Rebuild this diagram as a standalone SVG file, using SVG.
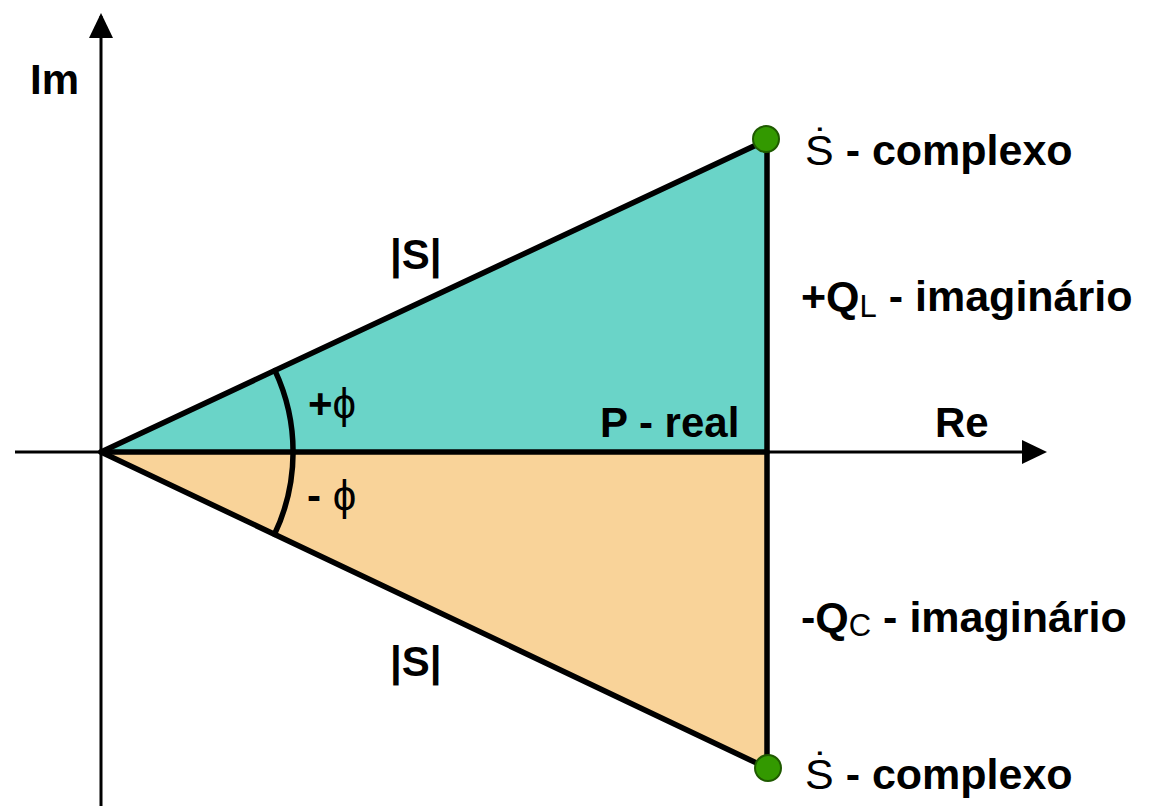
<svg xmlns="http://www.w3.org/2000/svg" width="1153" height="806" viewBox="0 0 1153 806">
  <style>
    text { font-family: "Liberation Sans", Arial, "DejaVu Sans", sans-serif; font-size: 42px; fill: #000; }
    .r { font-size: 43px; }
    .b { font-weight: bold; }
    .n { font-weight: normal; }
    .sub { font-size: 31px; font-weight: normal; }
    .axis { stroke: #000; stroke-width: 3; fill: none; }
    .edge { stroke: #000; stroke-width: 5.5; fill: none; stroke-linejoin: round; stroke-linecap: round; }
    .pt { fill: #339900; stroke: #1f5a00; stroke-width: 2; }
  </style>

  <g id="fills">
    <polygon points="101,452 767,140 767,452" fill="#6AD4C8"/>
    <polygon points="101,452 767,768 767,452" fill="#F9D399"/>
  </g>

  <g id="connectors">
    <path class="axis" d="M101,806 L101,16"/>
    <path d="M101,38 L89,38 L101,13 L113,38 z" fill="#000"/>
    <path class="axis" d="M15,452 L1024,452"/>
    <path d="M1022,440 L1047,452 L1022,464 z" fill="#000"/>
    <path class="edge" d="M101,452 L767,140 L767,768 L101,452 z"/>
    <path class="edge" d="M101,452 L767,452"/>
    <path class="edge" d="M275,370.6 A192,192 0 0 1 274.5,534.3"/>
  </g>

  <g id="point-top"><circle class="pt" cx="766" cy="139" r="13"/></g>
  <g id="point-bottom"><circle class="pt" cx="768" cy="768" r="13"/></g>

  <g id="labels">
    <text id="label-im" class="b" x="30" y="94">Im</text>
    <text id="label-re" class="b" x="935" y="437">Re</text>
    <text id="label-p" class="b" x="600" y="437">P - real</text>
    <text id="label-s-top" class="b" x="390" y="269">|S|</text>
    <text id="label-s-bottom" class="b" x="390" y="676">|S|</text>
    <text id="label-phi-plus" x="308" y="418"><tspan class="b">+</tspan><tspan class="n">ϕ</tspan></text>
    <text id="label-phi-minus" x="307" y="510"><tspan class="b">- </tspan><tspan class="n">ϕ</tspan></text>
    <text id="label-complexo-top" class="r" x="805" y="165"><tspan class="n">&#x1E60;</tspan><tspan class="b"> - complexo</tspan></text>
    <text id="label-ql" class="b r" x="801" y="311">+Q<tspan class="sub" dy="6">L</tspan><tspan dy="-6"> - imaginário</tspan></text>
    <text id="label-qc" class="b r" x="801" y="632">-Q<tspan class="sub" dy="4">C</tspan><tspan dy="-4"> - imaginário</tspan></text>
    <text id="label-complexo-bottom" class="r" x="805" y="789"><tspan class="n">&#x1E60;</tspan><tspan class="b"> - complexo</tspan></text>
  </g>
</svg>
